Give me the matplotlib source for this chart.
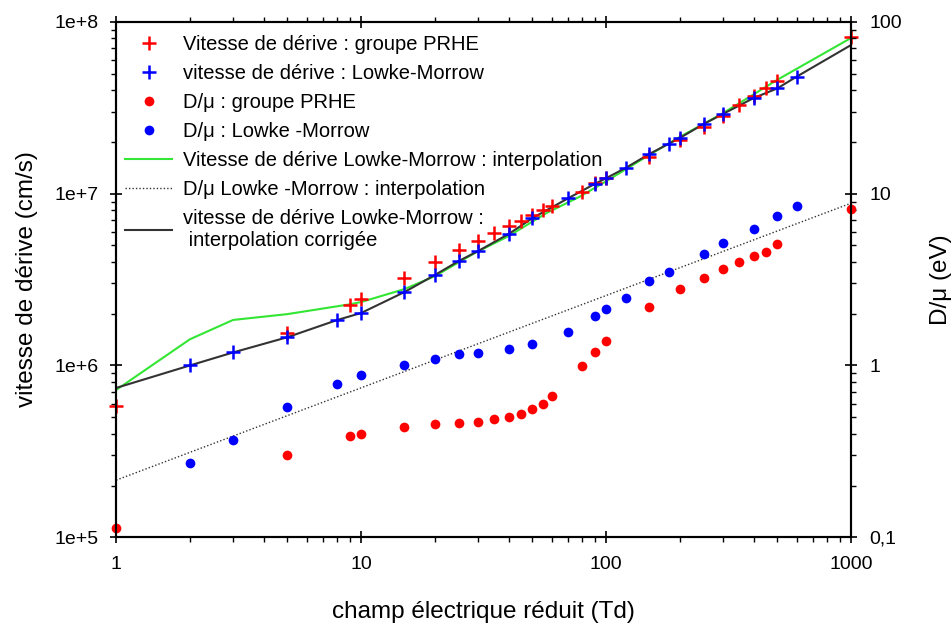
import matplotlib
matplotlib.use("Agg")
import matplotlib.pyplot as plt
import matplotlib.ticker as mticker
import numpy as np

plt.rcParams['font.family'] = ['Liberation Sans', 'DejaVu Sans']

# drift velocity, PRHE group (cm/s)
x_v_prhe = [1, 5, 9, 10, 15, 20, 25, 30, 35, 40, 45, 50, 55, 60, 80, 90, 100,
            150, 200, 250, 300, 350, 400, 450, 500, 1000]
v_prhe = [5.8e5, 1.54e6, 2.24e6, 2.43e6, 3.22e6, 4.0e6, 4.7e6, 5.3e6, 5.9e6, 6.5e6,
          6.9e6, 7.5e6, 8.0e6, 8.5e6, 1.02e7, 1.15e7, 1.23e7,
          1.63e7, 2.05e7, 2.44e7, 2.83e7, 3.28e7, 3.7e7, 4.1e7, 4.5e7, 8.2e7]

# drift velocity, Lowke-Morrow (cm/s)
x_v_lm = [2, 3, 5, 8, 10, 15, 20, 25, 30, 40, 50, 70, 90, 100, 120, 150, 180,
          200, 250, 300, 400, 500, 600]
v_lm = [1.0e6, 1.19e6, 1.46e6, 1.84e6, 2.02e6, 2.67e6, 3.36e6, 4.05e6, 4.63e6,
        5.82e6, 7.2e6, 9.4e6, 1.14e7, 1.23e7, 1.41e7, 1.70e7, 1.95e7,
        2.11e7, 2.54e7, 2.91e7, 3.6e7, 4.1e7, 4.8e7]

# D/mu, PRHE group (eV)
x_d_prhe = [1, 5, 9, 10, 15, 20, 25, 30, 35, 40, 45, 50, 55, 60, 80, 90, 100,
            150, 200, 250, 300, 350, 400, 450, 500, 1000]
d_prhe = [0.113, 0.30, 0.387, 0.40, 0.44, 0.455, 0.46, 0.47, 0.49, 0.50, 0.52,
          0.56, 0.60, 0.66, 0.99, 1.19, 1.39, 2.19, 2.78, 3.22, 3.64, 4.0,
          4.34, 4.57, 5.08, 8.13]

# D/mu, Lowke-Morrow (eV)
x_d_lm = [2, 3, 5, 8, 10, 15, 20, 25, 30, 40, 50, 70, 90, 100, 120, 150, 180,
          250, 300, 400, 500, 600]
d_lm = [0.27, 0.37, 0.57, 0.78, 0.88, 1.0, 1.09, 1.16, 1.18, 1.24, 1.33, 1.56,
        1.94, 2.13, 2.47, 3.10, 3.49, 4.45, 5.15, 6.22, 7.42, 8.47]

# interpolation of Lowke-Morrow drift velocity
x_interp = [1, 2, 3, 5, 9, 10, 15, 20, 29, 40, 57, 78, 100, 150, 200, 300, 500, 1000]
v_interp = [7.2e5, 1.42e6, 1.84e6, 1.99e6, 2.27e6, 2.34e6, 2.78e6, 3.31e6, 4.5e6,
            5.66e6, 7.7e6, 9.6e6, 1.18e7, 1.68e7, 2.14e7, 2.94e7, 4.6e7, 8.06e7]

# interpolation of Lowke-Morrow D/mu
x_d_interp = [1, 1000]
d_interp = [0.215, 8.8]

# corrected interpolation of drift velocity
x_corr = [1, 2, 3, 5, 8, 10, 15, 20, 25, 30, 40, 50, 70, 90, 100, 120, 150, 180,
          200, 250, 300, 400, 500, 600, 1000]
v_corr = [7.4e5, 1.0e6, 1.19e6, 1.46e6, 1.84e6, 2.02e6, 2.67e6, 3.36e6, 4.05e6,
          4.63e6, 5.82e6, 7.2e6, 9.4e6, 1.14e7, 1.23e7, 1.41e7, 1.70e7, 1.95e7,
          2.11e7, 2.54e7, 2.91e7, 3.6e7, 4.1e7, 4.8e7, 7.33e7]

fig = plt.figure(figsize=(9.52, 6.24), dpi=100)
ax = fig.add_axes([0.122, 0.139, 0.772, 0.826])
ax2 = ax.twinx()

l_green, = ax.plot(x_interp, v_interp, color='#33e633', lw=1.5)
l_black, = ax.plot(x_corr, v_corr, color='#333333', lw=1.5)
l_dot, = ax2.plot(x_d_interp, d_interp, color='#333333', lw=1.0, ls=(0, (1, 1.5)))
p1, = ax.plot(x_v_prhe, v_prhe, '+', color='red', ms=9.5, mew=1.8, clip_on=False)
p2, = ax.plot(x_v_lm, v_lm, '+', color='blue', ms=9.5, mew=1.8, clip_on=False)
p3, = ax2.plot(x_d_prhe, d_prhe, 'o', color='red', ms=7, mec='none', clip_on=False)
p4, = ax2.plot(x_d_lm, d_lm, 'o', color='blue', ms=7, mec='none', clip_on=False)

ax.set_xscale('log')
ax.set_yscale('log')
ax2.set_yscale('log')
ax.set_xlim(1, 1000)
ax.set_ylim(1e5, 1e8)
ax2.set_ylim(0.1, 100)

ax.yaxis.set_major_formatter(mticker.FuncFormatter(lambda v, p: '1e+%d' % round(np.log10(v))))
ax2.yaxis.set_major_formatter(mticker.FuncFormatter(
    lambda v, p: ('%g' % v).replace('.', ',')))
ax.xaxis.set_major_formatter(mticker.FuncFormatter(lambda v, p: '%g' % v))
ax.yaxis.set_minor_formatter(mticker.NullFormatter())
ax2.yaxis.set_minor_formatter(mticker.NullFormatter())
ax.xaxis.set_minor_formatter(mticker.NullFormatter())

ax.tick_params(which='both', labelsize=14, top=True)
ax.tick_params(which='major', direction='inout', length=9, width=1.2)
ax.tick_params(which='minor', direction='out', length=3.5, width=1)
ax.tick_params(axis='y', which='major', pad=8)
ax.tick_params(axis='x', which='major', pad=9)
ax2.tick_params(which='both', labelsize=14)
ax2.tick_params(which='major', direction='inout', length=9, width=1.2, pad=8.5)
ax2.tick_params(which='minor', direction='out', length=3.5, width=1)
for a in (ax, ax2):
    for s in a.spines.values():
        s.set_linewidth(1.5)

ax.set_xlabel('champ électrique réduit (Td)', fontsize=17.5, labelpad=20)
ax.set_ylabel('vitesse de dérive (cm/s)', fontsize=17.5, labelpad=12)
ax2.set_ylabel('D/μ (eV)', fontsize=17.5, labelpad=20)

handles = [p1, p2, p3, p4, l_green, l_dot, l_black]
labels = ['Vitesse de dérive : groupe PRHE',
          'vitesse de dérive : Lowke-Morrow',
          'D/μ : groupe PRHE',
          'D/μ : Lowke -Morrow',
          'Vitesse de dérive Lowke-Morrow : interpolation',
          'D/μ Lowke -Morrow : interpolation',
          'vitesse de dérive Lowke-Morrow :\n interpolation corrigée']
ax2.legend(handles, labels, loc='upper left', bbox_to_anchor=(0.012, 0.975),
           frameon=False, fontsize=14.5, handlelength=2.35, handletextpad=0.55,
           labelspacing=0.5, borderaxespad=0, borderpad=0)

fig.savefig('out.png', dpi=100)
